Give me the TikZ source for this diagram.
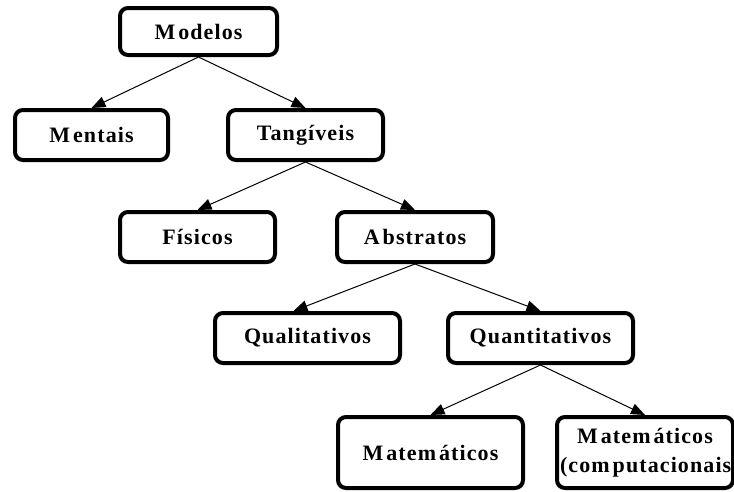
\documentclass[tikz,border=0pt]{standalone}
\usepackage{fontspec}
\setmainfont{Liberation Serif}[LetterSpace=5]
\usetikzlibrary{arrows.meta,calc}
\newcommand{\Mk}{\kern3pt}
\begin{document}
\begin{tikzpicture}[x=1pt,y=-1pt,
  box/.style={draw=black, line width=4pt, rounded corners=8pt, fill=white,
    inner sep=0pt, align=center,
    font=\fontsize{22}{29}\selectfont\bfseries},
  link/.style={draw=black, line width=1pt,
    -{Triangle[length=14pt,width=11pt]}}]
  \useasboundingbox (0,0) rectangle (734,491);
  \clip (0,0) rectangle (734,491);

  % tree of model types
  \node[box, minimum width=157pt, minimum height=47pt] (mod)   at (198.5,31.5) {M\Mk odelos};
  \node[box, minimum width=153pt, minimum height=50pt] (ment)  at (91.5,135)   {M\Mk entais};
  \node[box, minimum width=155pt, minimum height=50pt] (tang)  at (305.5,135)  {Tangíveis};
  \node[box, minimum width=155pt, minimum height=50pt] (fis)   at (197.5,237)  {Físicos};
  \node[box, minimum width=156pt, minimum height=50pt] (abs)   at (415,237)    {A\Mk bstratos};
  \node[box, minimum width=185pt, minimum height=50pt] (qual)  at (307.5,338)  {Qualitativos};
  \node[box, minimum width=185pt, minimum height=50pt] (quant) at (540.5,338)  {Quantitativos};
  \node[box, minimum width=185pt, minimum height=71pt] (mat)   at (430.5,452.5) {M\Mk atem\Mk áticos};
  \node[box, minimum width=176pt, minimum height=71pt, text width=176pt] (matc) at (645,452.5)
    {M\Mk atem\Mk áticos\\\hspace*{3pt}(com\Mk putacionais)};

  % connectors
  \draw[link] (mod.south)   -- (ment.north);
  \draw[link] (mod.south)   -- (tang.north);
  \draw[link] (tang.south)  -- (fis.north);
  \draw[link] (tang.south)  -- (abs.north);
  \draw[link] (abs.south)   -- ($(qual.north)+(-14,0)$);
  \draw[link] (abs.south)   -- (quant.north);
  \draw[link] (quant.south) -- (mat.north);
  \draw[link] (quant.south) -- (matc.north);
\end{tikzpicture}
\end{document}
